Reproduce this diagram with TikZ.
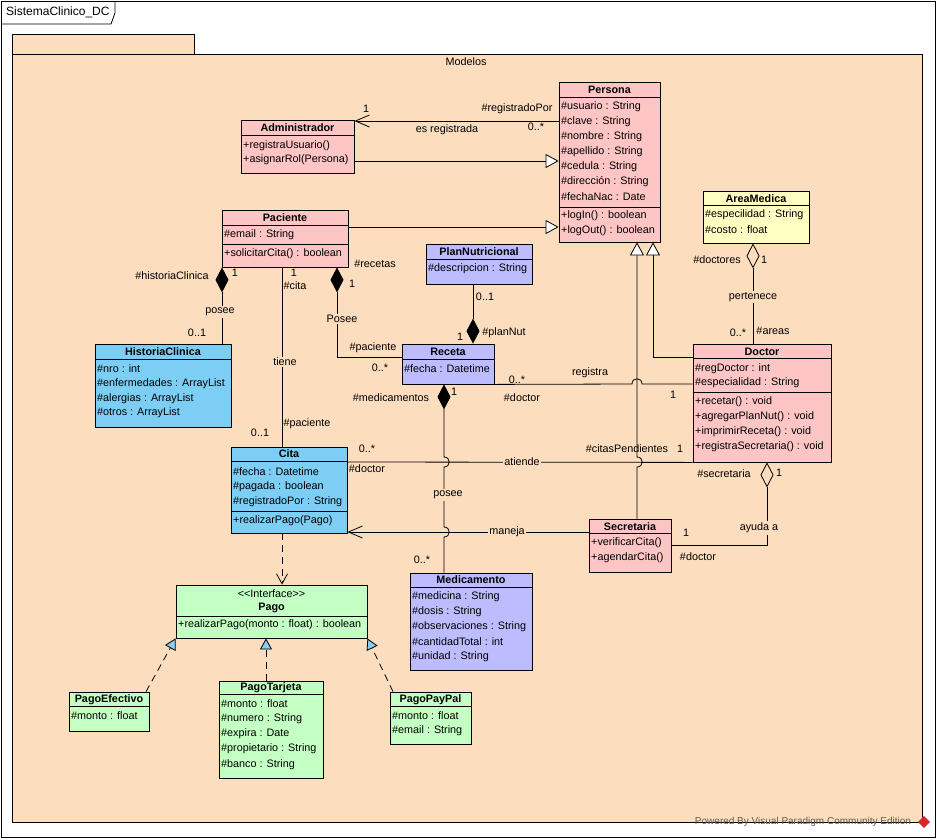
\documentclass[tikz,border=0pt]{standalone}
\usepackage{fontspec}
\setmainfont{Liberation Sans}
\usetikzlibrary{arrows.meta,fit}
\definecolor{pkg}{RGB}{252,221,190}
\definecolor{cpink}{RGB}{254,197,197}
\definecolor{cblue}{RGB}{124,206,245}
\definecolor{clav}{RGB}{188,188,255}
\definecolor{cyel}{RGB}{255,255,196}
\definecolor{cgreen}{RGB}{196,255,196}
\definecolor{realblue}{RGB}{140,205,240}
\definecolor{wmgray}{RGB}{90,90,90}
\definecolor{wmred}{RGB}{210,40,40}
\newcommand\arow[4]{\node[attr] (#1) at (#2,#3) {#4};}
\tikzset{
  cls/.style={draw=black, line width=0.8pt, inner sep=0pt},
  ttl/.style={font=\fontsize{10.8}{12}\selectfont\bfseries, inner sep=0pt},
  attr/.style={anchor=west, inner sep=0pt},
  lbl/.style={inner sep=0pt},
  lblbg/.style={fill=pkg, inner sep=1.5pt},
  sepline/.style={line width=0.8pt},
  conn/.style={line width=0.8pt},
  nav/.style={conn, -{Straight Barb[length=14pt,width=12pt]}},
  gen/.style={conn, -{Triangle[length=13pt,width=14pt,fill=white]}},
  comp/.style={conn, {Diamond[length=25pt,width=13pt]}-},
  aggr/.style={conn, {Diamond[open,length=25pt,width=13pt]}-},
  dep/.style={conn, dash pattern=on 7pt off 5pt, -{Straight Barb[length=10pt,width=11pt]}},
  real/.style={conn, dash pattern=on 7pt off 5pt, -{Triangle[length=11pt,width=12pt,fill=realblue]}},
}
\begin{document}
\begin{tikzpicture}[x=1pt,y=-1pt,font=\fontsize{10.8}{12}\selectfont]
\useasboundingbox (0,0) rectangle (937,839);
\fill[white] (0,0) rectangle (937,839);
% outer frame
\draw[line width=0.8pt] (1,1) rectangle (935,837);
\draw[line width=0.8pt] (1,24) -- (111,24) -- (115,13) -- (115,1);
\node[anchor=west,inner sep=0pt,font=\fontsize{12}{14}\selectfont] (frametitle) at (6,12) {SistemaClinico\_DC};
% package
\draw[line width=0.8pt, fill=pkg] (12,34) rectangle (194,54);
\draw[line width=0.8pt, fill=pkg] (12,54) rectangle (922,822);
\node[lbl] (pkgname) at (466,62) {Modelos};

% ===== classes =====
% Persona
\node[cls, fill=cpink, fit={(559,82) (660,242)}] (persona) {};
\node[ttl] (persona-t) at (609.5,90) {Persona};
\draw[sepline] (559,97) -- (660,97);
\draw[sepline] (559,207) -- (660,207);
\arow{persona-a1}{561}{107}{\#usuario : String}
\arow{persona-a2}{561}{122}{\#clave : String}
\arow{persona-a3}{561}{137}{\#nombre : String}
\arow{persona-a4}{561}{152}{\#apellido : String}
\arow{persona-a5}{561}{167}{\#cedula : String}
\arow{persona-a6}{561}{182}{\#dirección : String}
\arow{persona-a7}{561}{197}{\#fechaNac : Date}
\arow{persona-m1}{561}{216}{+logIn() : boolean}
\arow{persona-m2}{561}{231}{+logOut() : boolean}
% Administrador
\node[cls, fill=cpink, fit={(241,120) (354,173)}] (adm) {};
\node[ttl] (adm-t) at (297.5,128) {Administrador};
\draw[sepline] (241,135) -- (354,135);
\arow{adm-m1}{243}{146}{+registraUsuario()}
\arow{adm-m2}{243}{160}{+asignarRol(Persona)}
% Paciente
\node[cls, fill=cpink, fit={(222,210) (348,267)}] (pac) {};
\node[ttl] (pac-t) at (285,218) {Paciente};
\draw[sepline] (222,225) -- (348,225);
\draw[sepline] (222,244) -- (348,244);
\arow{pac-a1}{224}{235}{\#email : String}
\arow{pac-m1}{224}{254}{+solicitarCita() : boolean}
% PlanNutricional
\node[cls, fill=clav, fit={(426,244) (532,284)}] (plan) {};
\node[ttl] (plan-t) at (479,252) {PlanNutricional};
\draw[sepline] (426,259) -- (532,259);
\arow{plan-a1}{428}{269}{\#descripcion : String}
% Receta
\node[cls, fill=clav, fit={(402,344) (494,384)}] (receta) {};
\node[ttl] (receta-t) at (448,352) {Receta};
\draw[sepline] (402,359) -- (494,359);
\arow{receta-a1}{404}{369}{\#fecha : Datetime}
% AreaMedica
\node[cls, fill=cyel, fit={(703,191) (809,243)}] (area) {};
\node[ttl] (area-t) at (756,199) {AreaMedica};
\draw[sepline] (703,205) -- (809,205);
\arow{area-a1}{705}{215}{\#especilidad : String}
\arow{area-a2}{705}{230}{\#costo : float}
% Doctor
\node[cls, fill=cpink, fit={(693,344) (831,462)}] (doctor) {};
\node[ttl] (doctor-t) at (762,352) {Doctor};
\draw[sepline] (693,358) -- (831,358);
\draw[sepline] (693,392) -- (831,392);
\arow{doctor-a1}{695}{369}{\#regDoctor : int}
\arow{doctor-a2}{695}{383}{\#especialidad : String}
\arow{doctor-m1}{695}{402}{+recetar() : void}
\arow{doctor-m2}{695}{417}{+agregarPlanNut() : void}
\arow{doctor-m3}{695}{432}{+imprimirReceta() : void}
\arow{doctor-m4}{695}{447}{+registraSecretaria() : void}
% HistoriaClinica
\node[cls, fill=cblue, fit={(95,344) (231,427)}] (hist) {};
\node[ttl] (hist-t) at (163,352) {HistoriaClinica};
\draw[sepline] (95,359) -- (231,359);
\arow{hist-a1}{97}{369}{\#nro : int}
\arow{hist-a2}{97}{384}{\#enfermedades : ArrayList}
\arow{hist-a3}{97}{399}{\#alergias : ArrayList}
\arow{hist-a4}{97}{413}{\#otros : ArrayList}
% Cita
\node[cls, fill=cblue, fit={(231,447) (347,533)}] (cita) {};
\node[ttl] (cita-t) at (289,454) {Cita};
\draw[sepline] (231,461) -- (347,461);
\draw[sepline] (231,511) -- (347,511);
\arow{cita-a1}{233}{472}{\#fecha : Datetime}
\arow{cita-a2}{233}{487}{\#pagada : boolean}
\arow{cita-a3}{233}{502}{\#registradoPor : String}
\arow{cita-m1}{233}{521}{+realizarPago(Pago)}
% Secretaria
\node[cls, fill=cpink, fit={(589,519) (671,572)}] (secr) {};
\node[ttl] (secr-t) at (630,527) {Secretaria};
\draw[sepline] (589,533) -- (671,533);
\arow{secr-m1}{591}{543}{+verificarCita()}
\arow{secr-m2}{591}{558}{+agendarCita()}
% Medicamento
\node[cls, fill=clav, fit={(410,573) (532,670)}] (medic) {};
\node[ttl] (medic-t) at (471,580) {Medicamento};
\draw[sepline] (410,587) -- (532,587);
\arow{medic-a1}{412}{597}{\#medicina : String}
\arow{medic-a2}{412}{612}{\#dosis : String}
\arow{medic-a3}{412}{627}{\#observaciones : String}
\arow{medic-a4}{412}{642}{\#cantidadTotal : int}
\arow{medic-a5}{412}{657}{\#unidad : String}
% Pago
\node[cls, fill=cgreen, fit={(176,585) (367,638)}] (pago) {};
\node[lbl] (pago-s) at (271.5,594) {<\kern0pt<Interface>\kern0pt>};
\node[ttl] (pago-t) at (271.5,608) {Pago};
\draw[sepline] (176,616) -- (367,616);
\arow{pago-m1}{178}{625}{+realizarPago(monto : float) : boolean}
% PagoEfectivo
\node[cls, fill=cgreen, fit={(69,692) (149,731)}] (pe) {};
\node[ttl] (pe-t) at (109,700) {PagoEfectivo};
\draw[sepline] (69,706) -- (149,706);
\arow{pe-a1}{71}{716}{\#monto : float}
% PagoTarjeta
\node[cls, fill=cgreen, fit={(219,681) (323,778)}] (pt) {};
\node[ttl] (pt-t) at (271,688) {PagoTarjeta};
\draw[sepline] (219,694) -- (323,694);
\arow{pt-a1}{221}{704}{\#monto : float}
\arow{pt-a2}{221}{719}{\#numero : String}
\arow{pt-a3}{221}{734}{\#expira : Date}
\arow{pt-a4}{221}{749}{\#propietario : String}
\arow{pt-a5}{221}{765}{\#banco : String}
% PagoPayPal
\node[cls, fill=cgreen, fit={(390,692) (471,744)}] (pp) {};
\node[ttl] (pp-t) at (430.5,700) {PagoPayPal};
\draw[sepline] (390,706) -- (471,706);
\arow{pp-a1}{392}{716}{\#monto : float}
\arow{pp-a2}{392}{731}{\#email : String}

% ===== connectors =====
% Persona -> Administrador (es registrada)
\draw[nav] (persona.west |- 0,121) -- (adm.east |- 0,121);
\node[lbl] (c1a) at (366,109) {1};
\node[lbl] (c1b) at (517,109) {\#registradoPor};
\node[lbl] (c1c) at (536,127) {0..*};
\node[lbl] (c1d) at (447,130) {es registrada};
% generalizations
\draw[gen] (adm.east |- 0,161) -- (persona.west |- 0,161);
\draw[gen] (pac.east |- 0,227) -- (persona.west |- 0,227);
\draw[gen] (secr.north -| 637,0) -- (637,467) .. controls (644,467) and (644,457) .. (637,457) -- (persona.south -| 637,0);
\draw[gen] (doctor.west |- 0,357) -| (persona.south -| 653,0);
% AreaMedica - Doctor
\draw[aggr] (area.south -| 753,0) -- (doctor.north -| 753,0);
\node[lbl] (c6a) at (717,260) {\#doctores};
\node[lbl] (c6b) at (764,260) {1};
\node[lblbg] (c6c) at (753,297) {pertenece};
\node[lbl] (c6d) at (738,333) {0..*};
\node[lbl] (c6e) at (773,331) {\#areas};
% Paciente - HistoriaClinica
\draw[comp] (pac.south -| 222,0) -- (hist.north -| 222,0);
\node[lbl] (c7a) at (172,276) {\#historiaClinica};
\node[lbl] (c7b) at (235,273) {1};
\node[lblbg] (c7c) at (220,312) {posee};
\node[lbl] (c7d) at (197,333) {0..1};
% Paciente - Cita
\draw[conn] (pac.south -| 282,0) -- (cita.north -| 282,0);
\node[lbl] (c8a) at (294,273) {1};
\node[lbl] (c8b) at (295,286) {\#cita};
\node[lblbg] (c8c) at (285,362) {tiene};
\node[lbl] (c8d) at (307,424) {\#paciente};
\node[lbl] (c8e) at (260,433) {0..1};
% Paciente - Receta
\draw[comp] (pac.south -| 337,0) |- (receta.west |- 0,357);
\node[lbl] (c9a) at (375,264) {\#recetas};
\node[lbl] (c9b) at (352,284) {1};
\node[lblbg] (c9c) at (342,319) {Posee};
\node[lbl] (c9d) at (373,348) {\#paciente};
\node[lbl] (c9e) at (380,368) {0..*};
% Receta - PlanNutricional
\draw[comp] (receta.north -| 473,0) -- (plan.south -| 473,0);
\node[lbl] (c10a) at (485,297) {0..1};
\node[lbl] (c10b) at (460,337) {1};
\node[lbl] (c10c) at (504,333) {\#planNut};
% Receta - Medicamento
\draw[comp] (receta.south -| 444,0) -- (444,457) .. controls (451,457) and (451,467) .. (444,467) -- (444,527) .. controls (451,527) and (451,537) .. (444,537) -- (medic.north -| 444,0);
\node[lbl] (c11a) at (391,398) {\#medicamentos};
\node[lbl] (c11b) at (454,392) {1};
\node[lblbg] (c11c) at (448,495) {posee};
\node[lbl] (c11d) at (422,560) {0..*};
% Receta - Doctor (registra)
\draw[conn] (receta.south east) -- (632,384) .. controls (632,377) and (642,377) .. (642,384) -- (doctor.west |- 0,384);
\node[lbl] (c12a) at (590,373) {registra};
\node[lbl] (c12b) at (517,380) {0..*};
\node[lbl] (c12c) at (522,398) {\#doctor};
\node[lbl] (c12d) at (673,395) {1};
% Cita - Doctor (atiende)
\draw[conn] (cita.east |- 0,462) -- (doctor.south west);
\node[lbl] (c13a) at (367,449) {0..*};
\node[lbl] (c13b) at (367,469) {\#doctor};
\node[lblbg] (c13c) at (522,462) {atiende};
\node[lbl] (c13d) at (627,449) {\#citasPendientes};
\node[lbl] (c13e) at (680,449) {1};
% Secretaria -> Cita (maneja)
\draw[nav] (secr.west |- 0,532) -- (cita.east |- 0,532);
\node[lblbg] (c14a) at (507,532) {maneja};
% Doctor - Secretaria (ayuda a)
\draw[aggr] (doctor.south -| 767,0) |- (secr.east |- 0,545);
\node[lbl] (c15a) at (724,474) {\#secretaria};
\node[lbl] (c15b) at (779,473) {1};
\node[lblbg] (c15c) at (759,528) {ayuda a};
\node[lbl] (c15d) at (686,533) {1};
\node[lbl] (c15e) at (698,557) {\#doctor};
% Cita ..> Pago
\draw[dep] (cita.south -| 282,0) -- (pago.north -| 282,0);
% realizations
\draw[real] (pe.north -| 146,0) -- (pago.south west);
\draw[real] (pt.north -| 266,0) -- (pago.south -| 266,0);
\draw[real] (pp.north -| 393,0) -- (pago.south east);

% watermark
\node[lbl, text=wmgray, font=\fontsize{10}{11}\selectfont] (wm) at (803,822) {Powered By Visual Paradigm Community Edition};
\node[fill=wmred, draw=wmred, rotate=45, minimum size=8pt, inner sep=0pt] (wmlogo) at (924,822) {};
\end{tikzpicture}
\end{document}
